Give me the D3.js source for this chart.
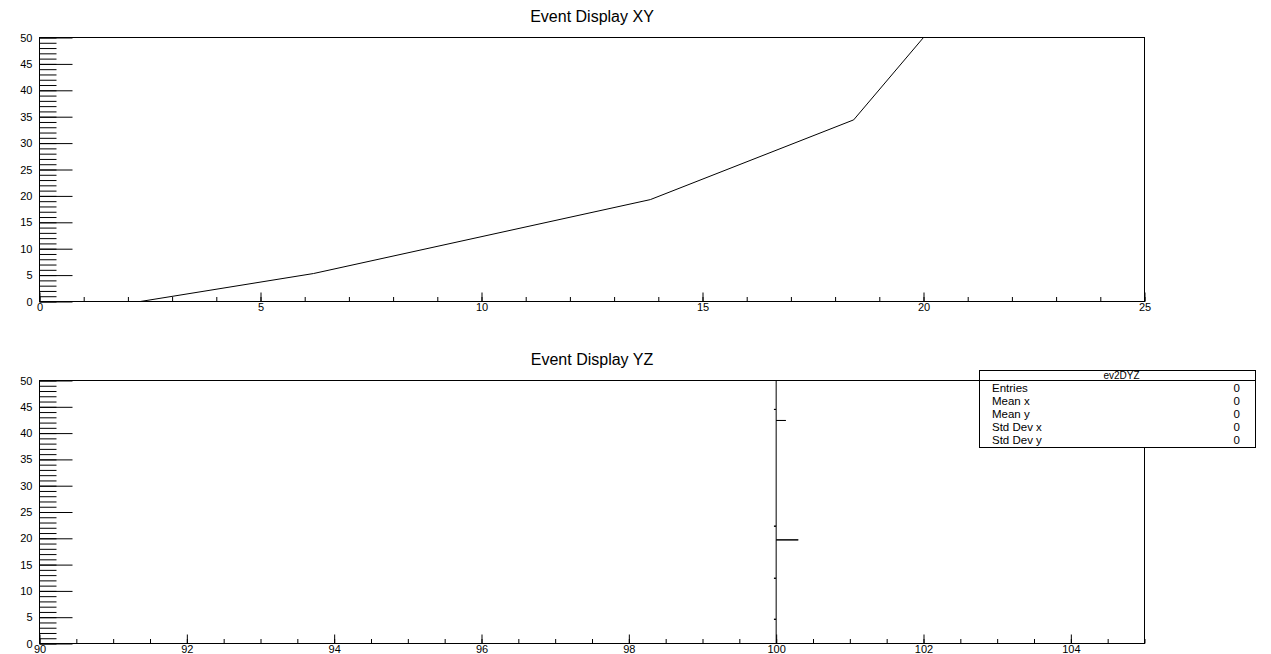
<!DOCTYPE html>
<html>
<head>
<meta charset="utf-8">
<script src="https://cdn.jsdelivr.net/npm/d3@7"></script>
<style>
  body { margin: 0; background: #fff; }
  svg text { font-family: "Liberation Sans", Arial, sans-serif; fill: #000; }
</style>
</head>
<body>
<svg id="cv" width="1271" height="654"></svg>
<script>
// XY view: track points
var xyX = [2.28, 6.2, 13.82, 18.42, 20.0];
var xyY = [0, 5.3, 19.3, 34.4, 50];

// YZ view: polyline points (z, y)
var yzZ = [100, 100, 99.97, 100, 100, 99.97, 100, 100, 100.3, 100, 100, 99.97, 100, 100, 100.13, 100, 100, 99.97, 100, 100];
var yzY = [0, 4.6, 4.6, 4.6, 12.4, 12.4, 12.4, 19.7, 19.7, 19.7, 22.3, 22.3, 22.3, 42.4, 42.4, 42.4, 44.5, 44.5, 44.5, 50];

// stats box
var statName = "ev2DYZ";
var statLabels = ["Entries", "Mean x", "Mean y", "Std Dev x", "Std Dev y"];
var statValues = [0, 0, 0, 0, 0];

var titles = ["Event Display XY", "Event Display YZ"];
var xDomains = [[0, 25], [90, 105]];
var xMajor = [d3.range(0, 26, 5), d3.range(90, 105, 2)];
var xMinor = [d3.range(0, 26, 1), d3.range(90, 105.01, 0.5)];
var yMajor = d3.range(0, 51, 5);
var yMinor = d3.range(0, 51, 1);

var svg = d3.select("#cv");
var left = 39.5, right = 1144.5;
var frames = [{top: 37.5, bottom: 301.5}, {top: 380.5, bottom: 643.5}];

function drawPad(i) {
    var f = frames[i];
    var x = d3.scaleLinear().domain(xDomains[i]).range([left, right]);
    var y = d3.scaleLinear().domain([0, 50]).range([f.bottom, f.top]);
    var g = svg.append("g");

    // title
    g.append("text")
        .attr("x", 592).attr("y", f.top - 15.5)
        .attr("text-anchor", "middle")
        .style("font-size", "16px")
        .text(titles[i]);

    // minor ticks first
    g.append("g").attr("transform", "translate(0," + f.bottom + ")")
        .call(d3.axisBottom(x).tickValues(xMinor[i]).tickSizeInner(-4.5).tickSizeOuter(0).tickFormat(""));
    g.append("g").attr("transform", "translate(" + left + ",0)")
        .call(d3.axisLeft(y).tickValues(yMinor).tickSizeInner(-17).tickSizeOuter(0).tickFormat(""));

    // major ticks with labels
    g.append("g").attr("class", "ax").attr("transform", "translate(0," + f.bottom + ")")
        .call(d3.axisBottom(x).tickValues(xMajor[i]).tickSizeInner(-9).tickSizeOuter(0).tickPadding(2).tickFormat(d3.format("d")));
    g.append("g").attr("class", "ax").attr("transform", "translate(" + left + ",0)")
        .call(d3.axisLeft(y).tickValues(yMajor).tickSizeInner(-33).tickSizeOuter(0).tickPadding(7).tickFormat(d3.format("d")));

    g.selectAll(".domain").remove();
    g.selectAll(".tick line").attr("stroke", "#000");
    g.selectAll(".ax text").style("font-size", "11px");

    // frame
    g.append("rect")
        .attr("x", left).attr("y", f.top)
        .attr("width", right - left).attr("height", f.bottom - f.top)
        .attr("fill", "none").attr("stroke", "#000").attr("stroke-width", 1);

    return {x: x, y: y, g: g, f: f};
}

var p1 = drawPad(0);
var p2 = drawPad(1);

svg.append("clipPath").attr("id", "clip1").append("rect")
    .attr("x", left).attr("y", frames[0].top).attr("width", right - left).attr("height", frames[0].bottom - frames[0].top);
svg.append("clipPath").attr("id", "clip2").append("rect")
    .attr("x", left).attr("y", frames[1].top).attr("width", right - left).attr("height", frames[1].bottom - frames[1].top);

var line1 = d3.line().x(function(d) { return p1.x(d[0]); }).y(function(d) { return p1.y(d[1]); });
p1.g.append("path")
    .datum(d3.zip(xyX, xyY))
    .attr("clip-path", "url(#clip1)")
    .attr("d", line1)
    .attr("fill", "none").attr("stroke", "#000").attr("stroke-width", 1);

var line2 = d3.line().x(function(d) { return p2.x(d[0]); }).y(function(d) { return p2.y(d[1]); });
p2.g.append("path")
    .datum(d3.zip(yzZ, yzY))
    .attr("clip-path", "url(#clip2)")
    .attr("d", line2)
    .attr("fill", "none").attr("stroke", "#000").attr("stroke-width", 1);

// stats box
var bx = 979.5, by = 370.5, bw = 276, bh = 77, rowH = 12.9;
var sb = svg.append("g");
sb.append("rect").attr("x", bx).attr("y", by).attr("width", bw).attr("height", bh)
    .attr("fill", "#fff").attr("stroke", "#000");
sb.append("line").attr("x1", bx).attr("x2", bx + bw).attr("y1", by + 10).attr("y2", by + 10)
    .attr("stroke", "#000");
sb.append("text").attr("x", bx + bw / 2 + 4).attr("y", by + 8.8)
    .attr("text-anchor", "middle").style("font-size", "10px").text(statName);
statLabels.forEach(function(lab, k) {
    sb.append("text").attr("x", 992).attr("y", 392 + k * rowH)
        .style("font-size", "11.5px").text(lab);
    sb.append("text").attr("x", 1240).attr("y", 392 + k * rowH)
        .attr("text-anchor", "end").style("font-size", "11.5px").text(statValues[k]);
});
</script>
</body>
</html>
